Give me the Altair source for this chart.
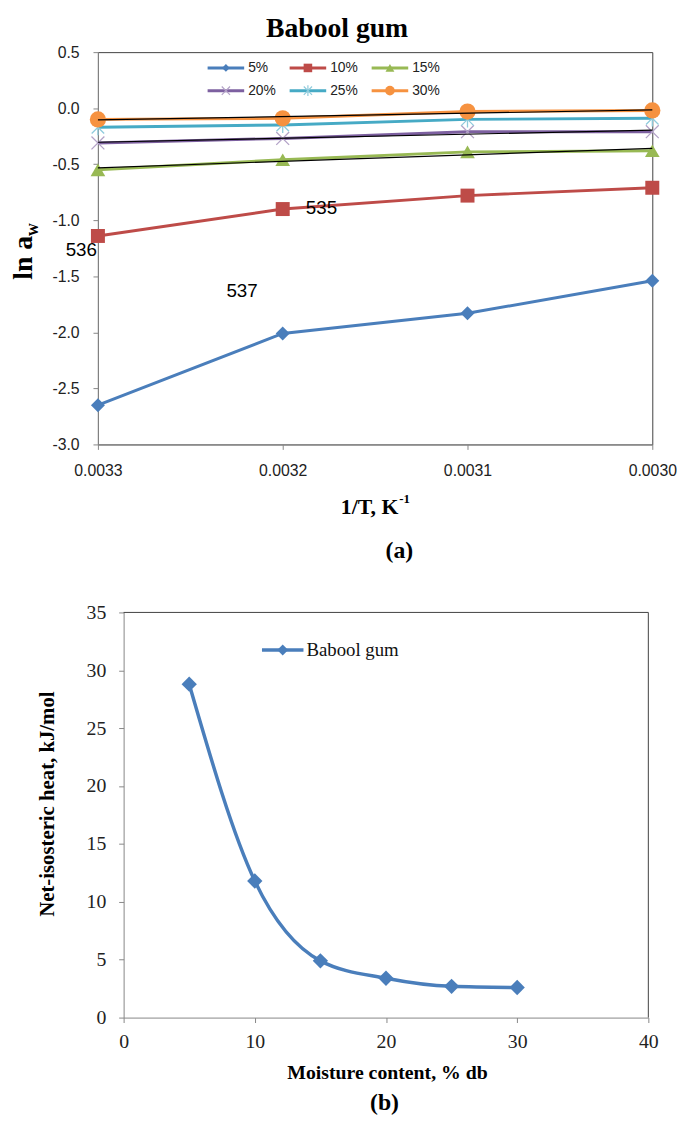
import altair as alt
import pandas as pd

# ---------------- data, panel (a) ----------------
inv_T = [0.0033, 0.0032, 0.0031, 0.0030]
series_names = ["5%", "10%", "15%", "20%", "25%", "30%"]
ln_aw_5 = [-2.65, -2.01, -1.83, -1.54]
ln_aw_10 = [-1.14, -0.90, -0.78, -0.71]
ln_aw_15 = [-0.55, -0.46, -0.39, -0.38]
ln_aw_20 = [-0.31, -0.27, -0.21, -0.21]
ln_aw_25 = [-0.17, -0.15, -0.10, -0.09]
ln_aw_30 = [-0.10, -0.09, -0.03, -0.02]
trend_series = ["15%", "20%", "30%"]
tick_x_a = [0.0030, 0.0031, 0.0032, 0.0033]
tick_y_a = [0.5, 0.0, -0.5, -1.0, -1.5, -2.0, -2.5, -3.0]
note_labels = ["535", "536", "537"]
note_x = [0.003179, 0.003309, 0.003222]
note_y = [-0.89, -1.27, -1.63]

# ---------------- data, panel (b) ----------------
moisture = [5, 10, 15, 20, 25, 30]
heat = [28.8, 11.8, 4.9, 3.4, 2.7, 2.6]
tick_x_b = [0, 10, 20, 30, 40]
tick_y_b = [0, 5, 10, 15, 20, 25, 30, 35]
legend_b_name = ["Babool gum"]

# ---------------- styles ----------------
line_colors = ["#4A7EBB", "#BE4B48", "#98B954", "#7D60A0", "#46AAC5", "#F69240"]
marker_colors = ["#4A7EBB", "#BE4B48", "#98B954", "#B3A2C7", "#8FCBDC", "#F69240"]
X_PATH = "M-1,-1L1,1M-1,1L1,-1"
AST_PATH = "M-1,-1L1,1M-1,1L1,-1M0,-1.3L0,1.3"
shapes = ["diamond", "square", "triangle-up", X_PATH, AST_PATH, "circle"]
filled = [True, True, True, False, False, True]
plot_sizes = [200, 200, 220, 170, 160, 270]
legend_sizes = [60, 75, 80, 70, 70, 95]
GRAY = "#868686"
FRAME = "#404040"
SERIF = "Liberation Serif"
SANS = "Liberation Sans"

W1, H1 = 561, 397          # panel (a) plot area
W2, H2 = 557, 410          # panel (b) view (plot area starts 26 px in)
B_LEFT = 26                # left inset of panel (b) plot area
GAP = 170                  # vertical distance between the two plot areas


def text_layer(txt, x, y, **kw):
    return alt.Chart(pd.DataFrame({"t": [txt]})).mark_text(**kw).encode(
        x=alt.value(x), y=alt.value(y), text="t:N")


# long table for panel (a)
all_vals = [ln_aw_5, ln_aw_10, ln_aw_15, ln_aw_20, ln_aw_25, ln_aw_30]
rows = []
for name, vals in zip(series_names, all_vals):
    for xv, yv in zip(inv_T, vals):
        rows.append({"series": name, "invT": xv, "lnaw": yv})
top_df = pd.DataFrame(rows)
notes_df = pd.DataFrame({"label": note_labels, "invT": note_x, "lnaw": note_y})
legend_a_df = pd.DataFrame({"series": series_names, "idx": list(range(len(series_names)))})

xa = alt.X(
    "invT:Q",
    scale=alt.Scale(domain=[0.0030, 0.0033], reverse=True, nice=False, zero=False),
    axis=alt.Axis(values=tick_x_a, format=".4f", title=None, grid=False,
                  domainColor=GRAY, tickColor=GRAY, tickSize=5,
                  labelFont=SANS, labelFontSize=16, labelColor="#222222",
                  labelPadding=13, labelFlush=False, labelOverlap=False),
)
ya = alt.Y(
    "lnaw:Q",
    scale=alt.Scale(domain=[-3.0, 0.5], nice=False, zero=False),
    axis=alt.Axis(values=tick_y_a, title=None, grid=False,
                  labelExpr="replace(format(datum.value, '.1f'), '\u2212', '-')",
                  domainColor=GRAY, tickColor=GRAY, tickSize=5,
                  labelFont=SANS, labelFontSize=16, labelColor="#222222",
                  labelPadding=14, labelOverlap=False),
)
color_scale = alt.Scale(domain=series_names, range=line_colors)

layers_a = []
for i, name in enumerate(series_names):
    sub = alt.Chart(top_df).transform_filter(alt.datum.series == name)
    layers_a.append(sub.mark_line(strokeWidth=3, color=line_colors[i]).encode(x=xa, y=ya))
for i, name in enumerate(series_names):
    sub = alt.Chart(top_df).transform_filter(alt.datum.series == name)
    if filled[i]:
        mk = sub.mark_point(shape=shapes[i], filled=True, size=plot_sizes[i],
                            color=marker_colors[i], opacity=1)
    else:
        mk = sub.mark_point(shape=shapes[i], filled=False, size=plot_sizes[i],
                            color=marker_colors[i], strokeWidth=1.3, opacity=1)
    layers_a.append(mk.encode(x=xa, y=ya))

# linear trend lines (black, thin)
layers_a.append(
    alt.Chart(top_df)
    .transform_filter(alt.FieldOneOfPredicate(field="series", oneOf=trend_series))
    .transform_regression("invT", "lnaw", groupby=["series"])
    .mark_line(color="black", strokeWidth=1.2)
    .encode(x=xa, y=ya, detail="series:N")
)

# number annotations
layers_a.append(
    alt.Chart(notes_df).mark_text(font=SANS, fontSize=19, color="black")
    .encode(x=alt.X("invT:Q"), y=alt.Y("lnaw:Q"), text="label:N")
)

# legend for panel (a)
leg = alt.Chart(legend_a_df).transform_calculate(
    lx="111 + (datum.idx % 3) * 83",
    ly="16 + floor(datum.idx / 3) * 23",
).transform_calculate(
    lx2="datum.lx + 37", lxm="datum.lx + 18.5", lxt="datum.lx + 41"
)
lx_enc = alt.X("lx:Q", scale=None, axis=None)
ly_enc = alt.Y("ly:Q", scale=None, axis=None)
layers_a.append(
    leg.mark_rule(strokeWidth=3).encode(
        x=lx_enc, x2="lx2:Q", y=ly_enc,
        color=alt.Color("series:N", scale=color_scale, legend=None))
)
for i, name in enumerate(series_names):
    sub = leg.transform_filter(alt.datum.series == name)
    if filled[i]:
        mk = sub.mark_point(shape=shapes[i], filled=True, size=legend_sizes[i],
                            color=marker_colors[i], opacity=1)
    else:
        mk = sub.mark_point(shape=shapes[i], filled=False, size=legend_sizes[i],
                            color=marker_colors[i], strokeWidth=1.2, opacity=1)
    layers_a.append(mk.encode(x=alt.X("lxm:Q", scale=None, axis=None), y=ly_enc))
layers_a.append(
    leg.mark_text(align="left", baseline="middle", font=SANS, fontSize=14, color="#222222")
    .encode(x=alt.X("lxt:Q", scale=None, axis=None), y=ly_enc, text="series:N")
)

# titles for panel (a)
layers_a += [
    text_layer("Babool gum", 242, -23, font=SERIF, fontSize=28, fontWeight="bold",
               align="center", baseline="middle"),
    text_layer("ln a", -67, 186, font=SERIF, fontSize=28, fontWeight="bold",
               angle=270, align="right", baseline="alphabetic"),
    text_layer("w", -61, 186, font=SERIF, fontSize=18, fontWeight="bold",
               angle=270, align="left", baseline="alphabetic"),
    text_layer("1/T, K", 304, 460, font=SERIF, fontSize=22, fontWeight="bold",
               align="right", baseline="middle"),
    text_layer("-1", 305, 452, font=SERIF, fontSize=13, fontWeight="bold",
               align="left", baseline="middle"),
    text_layer("(a)", 305, 505, font=SERIF, fontSize=24, fontWeight="bold",
               align="center", baseline="middle"),
    # invisible layout spacer fixing the left edge
    alt.Chart(pd.DataFrame({"s": [0]})).mark_rule(strokeOpacity=0).encode(
        x=alt.value(-90), y=alt.value(100), y2=alt.value(101)),
]

top = alt.layer(*layers_a).properties(
    width=W1, height=H1, view=alt.ViewBackground(stroke=FRAME, strokeWidth=1))

# ---------------- panel (b) ----------------
bot_df = pd.DataFrame({"moisture": moisture, "heat": heat})
leg_b_df = pd.DataFrame({"name": legend_b_name})
xb = alt.X(
    "moisture:Q",
    scale=alt.Scale(domain=[0, 40], range=[B_LEFT, W2], nice=False, zero=False),
    axis=alt.Axis(values=tick_x_b, title=None, grid=False,
                  domainColor=GRAY, tickColor=GRAY, tickSize=5,
                  labelFont=SERIF, labelFontSize=20, labelColor="#222222",
                  labelPadding=9, labelFlush=False, labelOverlap=False),
)
yb = alt.Y(
    "heat:Q",
    scale=alt.Scale(domain=[0, 35], nice=False, zero=False),
    axis=alt.Axis(values=tick_y_b, title=None, grid=False, offset=-B_LEFT,
                  domainColor=GRAY, tickColor=GRAY, tickSize=5,
                  labelFont=SERIF, labelFontSize=20, labelColor="#222222",
                  labelPadding=13, labelOverlap=False),
)
BLUE = "#4A7EBB"
frame_df = pd.DataFrame({"s": [0]})
layers_b = [
    # frame: top and right edges (left and bottom are the axis lines)
    alt.Chart(frame_df).mark_rule(color=FRAME, strokeWidth=1).encode(
        x=alt.value(B_LEFT), x2=alt.value(W2), y=alt.value(0)),
    alt.Chart(frame_df).mark_rule(color=FRAME, strokeWidth=1).encode(
        x=alt.value(W2), y=alt.value(0), y2=alt.value(H2)),
    alt.Chart(bot_df).mark_line(interpolate="monotone", color=BLUE, strokeWidth=3.5)
    .encode(x=xb, y=yb),
    alt.Chart(bot_df).mark_point(shape="diamond", filled=True, size=240, color=BLUE, opacity=1)
    .encode(x=xb, y=yb),
    alt.Chart(leg_b_df).mark_rule(color=BLUE, strokeWidth=3.5).encode(
        x=alt.value(166), x2=alt.value(208), y=alt.value(38)),
    alt.Chart(leg_b_df).mark_point(shape="diamond", filled=True, size=120, color=BLUE, opacity=1)
    .encode(x=alt.value(187), y=alt.value(38)),
    alt.Chart(leg_b_df).mark_text(align="left", baseline="middle", font=SERIF, fontSize=19,
                                  color="#111111")
    .encode(x=alt.value(211), y=alt.value(38), text="name:N"),
    text_layer("Net-isosteric heat,  kJ/mol", -50, 194, font=SERIF, fontSize=21,
               fontWeight="bold", angle=270, align="center", baseline="middle"),
    text_layer("Moisture content, % db", 293, 466, font=SERIF, fontSize=20,
               fontWeight="bold", align="center", baseline="middle"),
    text_layer("(b)", 290, 497, font=SERIF, fontSize=24, fontWeight="bold",
               align="center", baseline="middle"),
]
bottom = alt.layer(*layers_b).properties(
    width=W2, height=H2, view=alt.ViewBackground(stroke=None))

chart = (
    alt.vconcat(top, bottom, spacing=GAP, bounds="flush")
    .properties(padding=0)
)

chart.save("out.html", embed_options={"renderer": "svg", "actions": False})
